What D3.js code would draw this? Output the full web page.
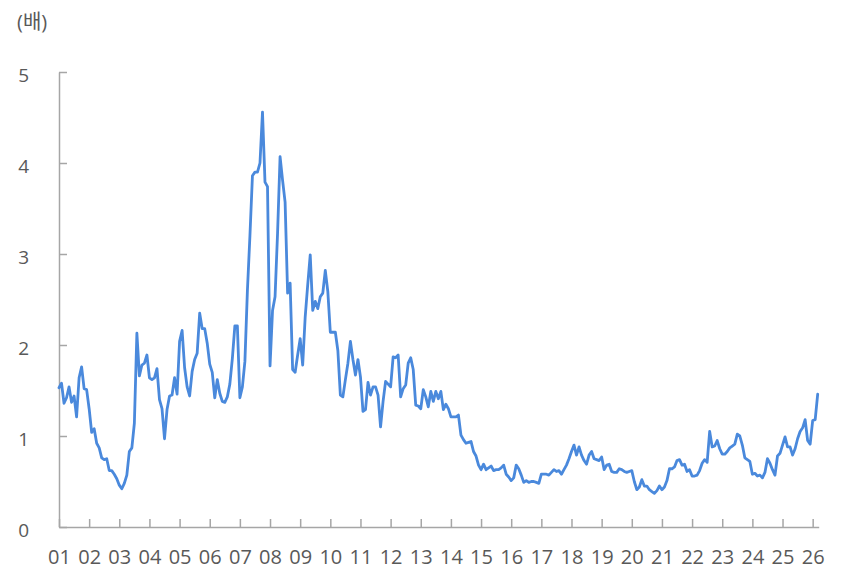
<!DOCTYPE html>
<html>
<head>
<meta charset="utf-8">
<script src="https://cdn.jsdelivr.net/npm/d3@7"></script>
<style>
  html, body { margin: 0; padding: 0; background: #fff; }
  svg { display: block; }
  text { font-family: "Open Sans", "Noto Sans CJK KR", sans-serif; fill: #595959; }
</style>
</head>
<body>
<svg id="chart" width="841" height="569"></svg>
<script>
// Monthly multiple (배), January 2001 onward
const startYear = 2001;
const values2001_2005 = [
  1.53, 1.58, 1.36, 1.42, 1.54, 1.37, 1.44, 1.21, 1.64, 1.76, 1.52, 1.51,
  1.30, 1.04, 1.08, 0.92, 0.87, 0.76, 0.74, 0.75, 0.62, 0.62, 0.58, 0.53,
  0.46, 0.42, 0.48, 0.57, 0.83, 0.87, 1.14, 2.13, 1.66, 1.78, 1.80, 1.89,
  1.64, 1.62, 1.64, 1.74, 1.40, 1.30, 0.97, 1.29, 1.44, 1.45, 1.64, 1.46,
  2.04, 2.16, 1.75, 1.54, 1.44, 1.71, 1.84, 1.91, 2.35, 2.18, 2.18, 2.02
];
const values2006_2010 = [
  1.79, 1.70, 1.42, 1.62, 1.47, 1.38, 1.37, 1.43, 1.57, 1.85, 2.21, 2.21,
  1.42, 1.54, 1.82, 2.60, 3.20, 3.86, 3.90, 3.90, 4.00, 4.56, 3.79, 3.74,
  1.77, 2.38, 2.53, 3.23, 4.07, 3.81, 3.57, 2.57, 2.68, 1.73, 1.70, 1.89,
  2.07, 1.78, 2.31, 2.66, 2.99, 2.38, 2.48, 2.40, 2.53, 2.57, 2.82, 2.59,
  2.14, 2.14, 2.14, 1.94, 1.45, 1.43, 1.62, 1.80, 2.04, 1.84, 1.67, 1.84
];
const values2011_2015 = [
  1.65, 1.27, 1.29, 1.59, 1.45, 1.54, 1.54, 1.45, 1.10, 1.38, 1.60, 1.57,
  1.54, 1.87, 1.86, 1.89, 1.43, 1.52, 1.56, 1.80, 1.86, 1.73, 1.34, 1.33,
  1.30, 1.51, 1.43, 1.32, 1.49, 1.38, 1.49, 1.41, 1.49, 1.29, 1.35, 1.30,
  1.21, 1.21, 1.21, 1.23, 1.01, 0.96, 0.92, 0.93, 0.94, 0.83, 0.78, 0.68,
  0.63, 0.69, 0.63, 0.65, 0.67, 0.62, 0.63, 0.63, 0.65, 0.68, 0.58, 0.55
];
const values2016_2020 = [
  0.51, 0.54, 0.68, 0.64, 0.57, 0.49, 0.51, 0.49, 0.50, 0.50, 0.49, 0.48,
  0.58, 0.58, 0.58, 0.57, 0.60, 0.63, 0.61, 0.62, 0.58, 0.63, 0.68, 0.75,
  0.83, 0.90, 0.79, 0.88, 0.79, 0.73, 0.69, 0.79, 0.83, 0.75, 0.74, 0.73,
  0.77, 0.63, 0.68, 0.69, 0.61, 0.60, 0.60, 0.64, 0.63, 0.61, 0.60, 0.61,
  0.62, 0.50, 0.41, 0.44, 0.52, 0.45, 0.45, 0.41, 0.39, 0.37, 0.40, 0.45
];
const values2021_2026 = [
  0.41, 0.44, 0.51, 0.64, 0.64, 0.66, 0.73, 0.74, 0.68, 0.69, 0.61, 0.63,
  0.56, 0.56, 0.57, 0.62, 0.70, 0.74, 0.71, 1.05, 0.88, 0.89, 0.95, 0.86,
  0.80, 0.80, 0.83, 0.87, 0.89, 0.91, 1.02, 1.00, 0.90, 0.76, 0.74, 0.72,
  0.58, 0.59, 0.56, 0.57, 0.54, 0.60, 0.75, 0.70, 0.63, 0.57, 0.78, 0.81,
  0.90, 0.99, 0.88, 0.88, 0.79, 0.86, 0.97, 1.05, 1.09, 1.18, 0.95, 0.91,
  1.17, 1.18, 1.46
];
const yearLabels = ["01","02","03","04","05","06","07","08","09","10","11","12","13",
                    "14","15","16","17","18","19","20","21","22","23","24","25","26"];
const yTicks = [0, 1, 2, 3, 4, 5];
const unitLabel = "(배)";

const series = [].concat(values2001_2005, values2006_2010, values2011_2015,
                         values2016_2020, values2021_2026)
  .map((v, i) => ({ m: i, v }));

const svg = d3.select("#chart");
const axisColor = "#a6a6a6";

// month index -> x, value -> y
const x = d3.scaleLinear().domain([0, 302.4]).range([59, 818.7]);
const y = d3.scaleLinear().domain([0, 5]).range([527, 72]);

// y axis (ticks pointing into the plot)
const gy = svg.append("g")
  .attr("transform", `translate(${x(0)},0)`)
  .call(d3.axisLeft(y).tickValues(yTicks).tickFormat(d3.format("d"))
    .tickSizeInner(-8).tickSizeOuter(0).tickPadding(30));
gy.selectAll("path, line").attr("stroke", axisColor).attr("stroke-width", 1.5);
gy.selectAll("text").attr("font-size", 19).attr("dy", "0.5em").attr("fill", "#595959");

// x axis: a tick at the start of each year
const gx = svg.append("g")
  .attr("transform", `translate(0,${y(0)})`)
  .call(d3.axisBottom(x).tickValues(yearLabels.map((d, i) => i * 12))
    .tickFormat((d, i) => yearLabels[i])
    .tickSizeInner(-8).tickSizeOuter(0).tickPadding(23));
gx.selectAll("path, line").attr("stroke", axisColor).attr("stroke-width", 1.5);
gx.selectAll("text").attr("font-size", 20).attr("fill", "#595959");

// unit label
svg.append("text")
  .attr("x", 17).attr("y", 29)
  .attr("font-size", 20)
  .text(unitLabel);

// series line
const line = d3.line().x(d => x(d.m)).y(d => y(d.v));
svg.append("path")
  .datum(series)
  .attr("fill", "none")
  .attr("stroke", "#4a89dc")
  .attr("stroke-width", 2.8)
  .attr("stroke-linejoin", "round")
  .attr("stroke-linecap", "round")
  .attr("d", line);
</script>
</body>
</html>
